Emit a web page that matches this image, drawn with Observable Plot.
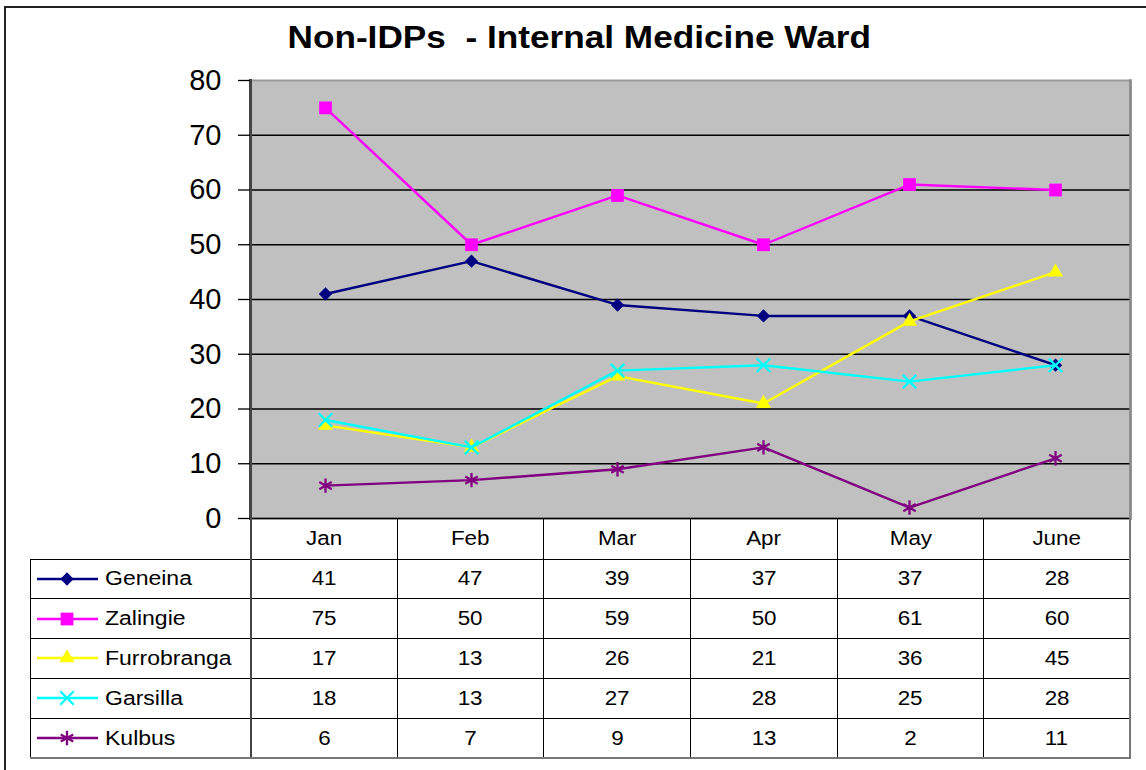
<!DOCTYPE html>
<html>
<head>
<meta charset="utf-8">
<script src="https://cdn.jsdelivr.net/npm/d3@7"></script>
<script src="https://cdn.jsdelivr.net/npm/@observablehq/plot@0.6"></script>
<style>
  html, body { margin: 0; padding: 0; background: #fff; }
  body { width: 1146px; height: 770px; overflow: hidden; position: relative; font-family: "Liberation Sans", Arial, sans-serif; color: #000; }
  #frame { position: absolute; left: 4px; top: 6px; width: 1300px; height: 900px; border: 2px solid #222; box-sizing: border-box; }
  #title { position: absolute; left: 0; top: 21px; width: 1159px; text-align: center; font-weight: bold; font-size: 32px; line-height: 32px; white-space: pre; }
  #title span { display: inline-block; transform: scaleX(1.1); }
  #chart { position: absolute; left: 0; top: 60px; }
  #tbl { position: absolute; left: 30px; top: 518px; border-collapse: collapse; table-layout: fixed; font-size: 20px; }
  #tbl td { padding: 0; text-align: center; border: 1px solid #000; white-space: nowrap; }
  #tbl td span { display: inline-block; transform: scaleX(1.12); }
  #tbl td.leg span { transform-origin: left center; transform: scaleX(1.15); }
  #tbl tr.head td { height: 40.5px; border-top: none; }
  #tbl tr.head td.blank { border-left: none; }
  #tbl tr.row td { height: 38.8px; }
  #tbl td.c0 { border-left: 2px solid #444; }
  #tbl td.last { border-right: 2px solid #777; }
  #tbl tr.bottom td { border-bottom: 2px solid #777; }
  #tbl td.leg { text-align: left; }
  .legbox { display: flex; align-items: center; }
</style>
</head>
<body>
<div id="frame"></div>
<div id="title"><span>Non-IDPs  - Internal Medicine Ward</span></div>
<div id="chart"></div>
<table id="tbl"></table>
<script>
// ---- data ----
const months = ["Jan", "Feb", "Mar", "Apr", "May", "June"];
const yTicks = [0, 10, 20, 30, 40, 50, 60, 70, 80];
const seriesNames = ["Geneina", "Zalingie", "Furrobranga", "Garsilla", "Kulbus"];
const geneina     = [41, 47, 39, 37, 37, 28];
const zalingie    = [75, 50, 59, 50, 61, 60];
const furrobranga = [17, 13, 26, 21, 36, 45];
const garsilla    = [18, 13, 27, 28, 25, 28];
const kulbus      = [6, 7, 9, 13, 2, 11];
const seriesValues = [geneina, zalingie, furrobranga, garsilla, kulbus];
const seriesColors = ["#000080", "#FF00FF", "#FFFF00", "#00FFFF", "#800080"];
const seriesSymbols = ["diamond2", "square", "triangle", "times", "asterisk"];
const symbolSizes = [6, 7.2, 5.6, 6.2, 6.8];
const symbolFilled = [true, true, true, false, false];

// ---- plot ----
const marks = [
  Plot.frame({fill: "#C0C0C0", stroke: "#999", strokeWidth: 2}),
  Plot.ruleY(yTicks.filter(t => t < 80), {stroke: "#000", strokeWidth: 1.3}),
  Plot.frame({anchor: "left", stroke: "#444", strokeWidth: 3}),
  Plot.frame({anchor: "right", stroke: "#888", strokeWidth: 2.5}),
  Plot.axisY({ticks: yTicks, tickSize: 12, tickPadding: 17, tickFormat: d => d, label: null, fontSize: 29, stroke: "#000", strokeWidth: 1.3, fill: "#000"})
];
seriesNames.forEach((name, i) => {
  const data = months.map((m, j) => ({month: m, value: seriesValues[i][j]}));
  marks.push(Plot.line(data, {x: "month", y: "value", stroke: seriesColors[i], strokeWidth: 2.4}));
  if (symbolFilled[i]) {
    marks.push(Plot.dot(data, {x: "month", y: "value", symbol: seriesSymbols[i], r: symbolSizes[i], fill: seriesColors[i], stroke: "none"}));
  } else {
    marks.push(Plot.dot(data, {x: "month", y: "value", symbol: seriesSymbols[i], r: symbolSizes[i], fill: "none", stroke: seriesColors[i], strokeWidth: 2.3}));
  }
});

const chart = Plot.plot({
  width: 1146,
  height: 500,
  marginTop: 20,
  marginBottom: 42,
  marginLeft: 250,
  marginRight: 16,
  x: {type: "point", domain: months, padding: 0.5, axis: null},
  y: {domain: [0, 80], axis: null},
  style: {fontFamily: "'Liberation Sans', Arial, sans-serif", fontSize: "29px", background: "transparent", overflow: "visible", color: "#000"},
  marks
});
document.getElementById("chart").appendChild(chart);

// ---- data table ----
const tbl = d3.select("#tbl");
const cg = tbl.append("colgroup");
cg.append("col").style("width", "220px");
months.forEach(() => cg.append("col").style("width", (880 / months.length) + "px"));

const head = tbl.append("tr").attr("class", "head");
head.append("td").attr("class", "blank");
months.forEach((m, j) => head.append("td")
  .attr("class", (j === 0 ? "c0" : "") + (j === months.length - 1 ? " last" : ""))
  .append("span").text(m));

const symMap = {diamond2: d3.symbolDiamond2, square: d3.symbolSquare, triangle: d3.symbolTriangle, times: d3.symbolTimes, asterisk: d3.symbolAsterisk};
seriesNames.forEach((name, i) => {
  const tr = tbl.append("tr").attr("class", "row" + (i === seriesNames.length - 1 ? " bottom" : ""));
  const leg = tr.append("td").attr("class", "leg").append("div").attr("class", "legbox");
  const sw = leg.append("svg").attr("width", 74).attr("height", 20).style("display", "block");
  sw.append("line").attr("x1", 6).attr("x2", 67).attr("y1", 10).attr("y2", 10)
    .attr("stroke", seriesColors[i]).attr("stroke-width", 2.3);
  const r = symbolSizes[i];
  const path = d3.symbol(symMap[seriesSymbols[i]], r * r * Math.PI)();
  const p = sw.append("path").attr("d", path).attr("transform", "translate(36,10)");
  if (symbolFilled[i]) p.attr("fill", seriesColors[i]);
  else p.attr("fill", "none").attr("stroke", seriesColors[i]).attr("stroke-width", 2.3);
  leg.append("span").text(name);
  seriesValues[i].forEach((v, j) => tr.append("td")
    .attr("class", (j === 0 ? "c0" : "") + (j === months.length - 1 ? " last" : ""))
    .append("span").text(v));
});
</script>
</body>
</html>
